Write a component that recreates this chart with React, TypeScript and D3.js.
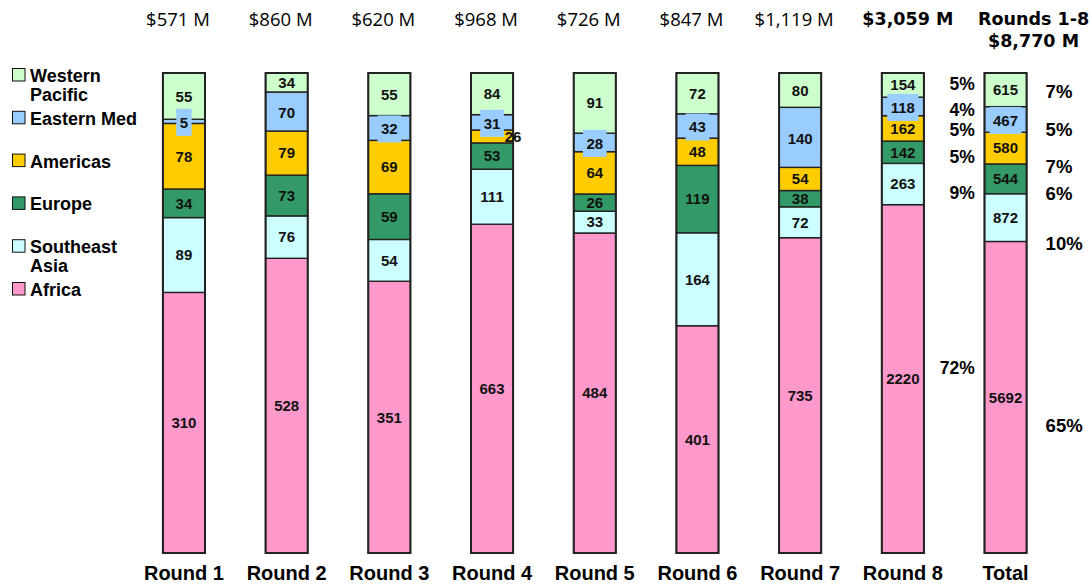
import { useRef, useEffect } from 'react'
import * as d3 from 'd3'

const rounds = ['Round 1', 'Round 2', 'Round 3', 'Round 4', 'Round 5', 'Round 6', 'Round 7', 'Round 8', 'Total']
const fundingLabels = ['$571 M', '$860 M', '$620 M', '$968 M', '$726 M', '$847 M', '$1,119 M', '$3,059 M', '$8,770 M']

// values in $M, stacked bottom -> top
const africa = [310, 528, 351, 663, 484, 401, 735, 2220, 5692]
const southeastAsia = [89, 76, 54, 111, 33, 164, 72, 263, 872]
const europe = [34, 73, 59, 53, 26, 119, 38, 142, 544]
const americas = [78, 79, 69, 26, 64, 48, 54, 162, 580]
const easternMed = [5, 70, 32, 31, 28, 43, 140, 118, 467]
const westernPacific = [55, 34, 55, 84, 91, 72, 80, 154, 615]

// share labels next to Round 8 and Total (bottom -> top)
const round8Shares = ['72%', '9%', '5%', '5%', '4%', '5%']
const totalShares = ['65%', '10%', '6%', '7%', '5%', '7%']

const regions = [
  { key: 'africa', label: ['Africa'], color: '#ff99cc', values: africa },
  { key: 'sea', label: ['Southeast', 'Asia'], color: '#ccffff', values: southeastAsia },
  { key: 'europe', label: ['Europe'], color: '#339966', values: europe },
  { key: 'americas', label: ['Americas'], color: '#ffcc00', values: americas },
  { key: 'emed', label: ['Eastern Med'], color: '#99ccff', values: easternMed },
  { key: 'wpac', label: ['Western', 'Pacific'], color: '#ccffcc', values: westernPacific },
]

export default function App() {
  const svgRef = useRef<SVGSVGElement>(null)

  useEffect(() => {
    if (!svgRef.current) return
    const svg = d3.select(svgRef.current)
    svg.selectAll('*').remove()

    const bold = 'Liberation Sans, Arial, sans-serif'
    const rows = rounds.map((r, i) => {
      const row: Record<string, any> = { round: r }
      regions.forEach((g) => (row[g.key] = g.values[i]))
      return row
    })

    const x = d3
      .scaleBand()
      .domain(rounds)
      .range([132.6, 132.6 + 9 * 102.7])
      .paddingInner(0.59)
      .paddingOuter(0.295)
    const y = d3.scaleLinear().domain([0, 1]).range([553, 73])
    const bw = x.bandwidth()

    const series = d3
      .stack<any>()
      .keys(regions.map((g) => g.key))
      .offset(d3.stackOffsetExpand)(rows)

    // segments
    series.forEach((s, si) => {
      svg
        .append('g')
        .selectAll('rect')
        .data(s)
        .join('rect')
        .attr('x', (d) => x(d.data.round)!)
        .attr('y', (d) => y(d[1]))
        .attr('width', bw)
        .attr('height', (d) => y(d[0]) - y(d[1]))
        .attr('fill', regions[si].color)
        .attr('stroke', '#222')
        .attr('stroke-width', 1.4)
    })

    // outline of each bar
    svg
      .append('g')
      .selectAll('rect')
      .data(rounds)
      .join('rect')
      .attr('x', (d) => x(d)!)
      .attr('y', y(1))
      .attr('width', bw)
      .attr('height', y(0) - y(1))
      .attr('fill', 'none')
      .attr('stroke', '#222')
      .attr('stroke-width', 2)

    // value labels
    const labels = svg.append('g')
    series.forEach((s, si) => {
      const g = regions[si]
      s.forEach((d) => {
        const h = y(d[0]) - y(d[1])
        const cy = (y(d[0]) + y(d[1])) / 2
        let cx = x(d.data.round)! + bw / 2
        if (g.key !== 'emed' && h < 14) cx = x(d.data.round)! + bw
        const t = labels
          .append('text')
          .attr('x', cx)
          .attr('y', cy + (g.key === 'emed' ? 1 : 0))
          .attr('dy', '0.36em')
          .attr('text-anchor', 'middle')
          .attr('font-family', bold)
          .attr('font-weight', 'bold')
          .attr('font-size', 15)
          .attr('fill', '#111')
          .text(g.values[rounds.indexOf(d.data.round)])
        if (g.key === 'emed') {
          const w = (t.node() as SVGTextElement).getComputedTextLength() + 7
          labels
            .insert('rect', () => t.node())
            .attr('x', cx - w / 2)
            .attr('y', cy + 1 - 13.5)
            .attr('width', w)
            .attr('height', 27)
            .attr('fill', g.color)
        }
      })
    })

    // share labels
    const shareNudge8 = [-11, 9, 4.5, 1, 3, -1]
    const shareNudgeTotal = [28, 26, 14, 18, 9.5, 2]
    const shareText = (idx: number, texts: string[], nudges: number[], xPos: number, anchor: string, size: number) => {
      series.forEach((s, si) => {
        const d = s[idx]
        svg
          .append('text')
          .attr('x', xPos)
          .attr('y', (y(d[0]) + y(d[1])) / 2 + nudges[si])
          .attr('dy', '0.36em')
          .attr('text-anchor', anchor)
          .attr('font-family', bold)
          .attr('font-weight', 'bold')
          .attr('font-size', size)
          .attr('fill', '#000')
          .text(texts[si])
      })
    }
    shareText(7, round8Shares, shareNudge8, x('Round 8')! + bw + 51, 'end', 17.5)
    shareText(8, totalShares, shareNudgeTotal, x('Total')! + bw + 19, 'start', 18.5)

    // headers
    fundingLabels.forEach((lab, i) => {
      const cx = x(rounds[i])! + bw / 2
      if (i < 7) {
        svg
          .append('text')
          .attr('x', cx - 6)
          .attr('y', 26)
          .attr('text-anchor', 'middle')
          .attr('font-family', 'Open Sans, sans-serif')
          .attr('font-size', 18.5)
          .attr('fill', '#000')
          .text(lab)
      } else {
        const hx = i === 7 ? cx + 5 : cx + 28
        const t = svg
          .append('text')
          .attr('x', hx)
          .attr('y', 25)
          .attr('text-anchor', 'middle')
          .attr('font-family', 'DejaVu Sans, sans-serif')
          .attr('font-weight', 'bold')
          .attr('font-size', 17.5)
          .attr('fill', '#000')
        if (i === 7) t.text(lab)
        else {
          t.append('tspan').text('Rounds 1-8')
          t.append('tspan').attr('x', hx).attr('dy', 21.7).text(lab)
        }
      }
    })

    // category axis labels
    svg
      .append('g')
      .selectAll('text')
      .data(rounds)
      .join('text')
      .attr('x', (d) => x(d)! + bw / 2)
      .attr('y', 580)
      .attr('text-anchor', 'middle')
      .attr('font-family', bold)
      .attr('font-weight', 'bold')
      .attr('font-size', 20)
      .attr('fill', '#000')
      .text((d) => d)

    // legend (top -> bottom)
    const legend = svg.append('g')
    ;[...regions].reverse().forEach((g, i) => {
      const base = 82 + i * 42.8
      legend
        .append('rect')
        .attr('x', 12.5)
        .attr('y', base - 13.5)
        .attr('width', 12.5)
        .attr('height', 12.5)
        .attr('fill', g.color)
        .attr('stroke', '#111')
        .attr('stroke-width', 1)
      g.label.forEach((line, li) => {
        legend
          .append('text')
          .attr('x', 30)
          .attr('y', base + li * 18.5)
          .attr('font-family', bold)
          .attr('font-weight', 'bold')
          .attr('font-size', 18)
          .attr('fill', '#000')
          .text(line)
      })
    })
  }, [])

  return (
    <svg
      ref={svgRef}
      width={1091}
      height={588}
      style={{ position: 'absolute', left: 0, top: 0, background: '#fff' }}
    />
  )
}
